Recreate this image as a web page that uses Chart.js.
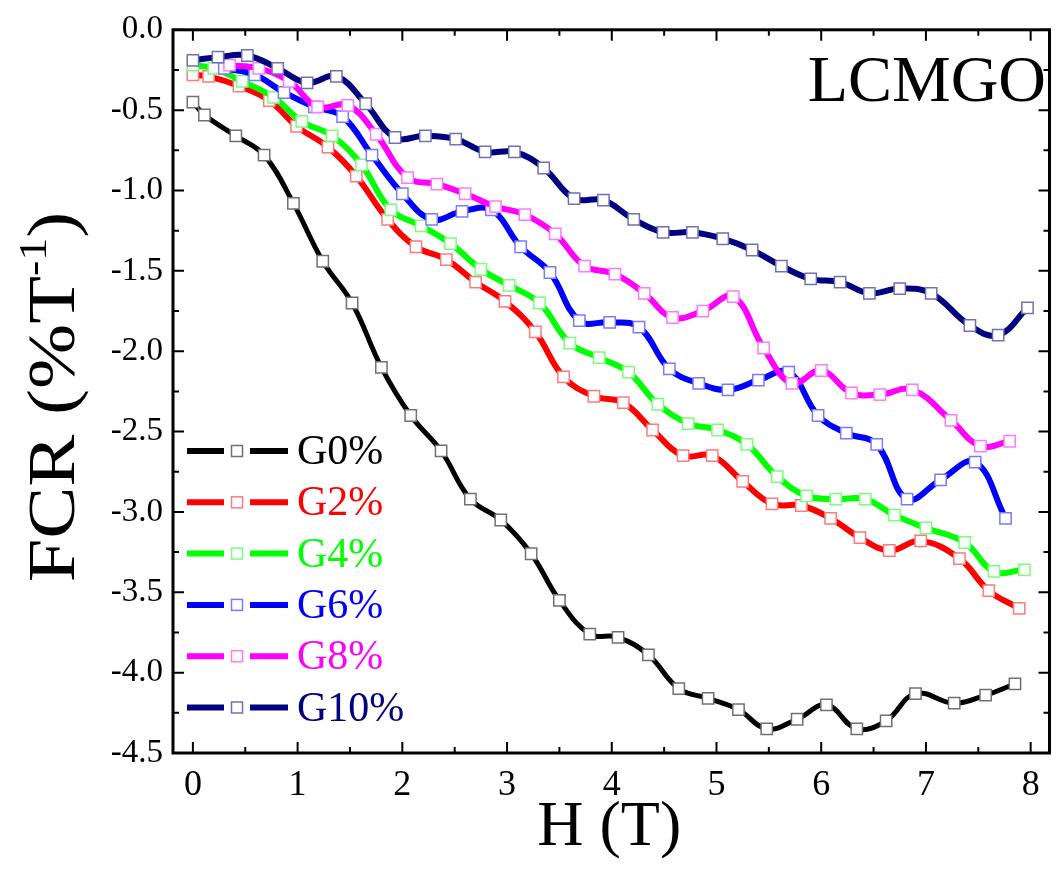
<!DOCTYPE html>
<html>
<head>
<meta charset="utf-8">
<title>FCR vs H - LCMGO</title>
<script src="https://cdn.jsdelivr.net/npm/chart.js@4.4.0/dist/chart.umd.min.js"></script>
<style>
  html, body { margin: 0; padding: 0; background: #fff; }
  #wrap { width: 1059px; height: 869px; }
</style>
</head>
<body>
<div id="wrap"><canvas id="fcrChart" width="1059" height="869"></canvas></div>
<script>
// --- DATA ---
const seriesNames = ['G0%', 'G2%', 'G4%', 'G6%', 'G8%', 'G10%'];

const g0Field = [0, 0.11, 0.41, 0.68, 0.96, 1.24, 1.52, 1.80, 2.08, 2.37, 2.65, 2.94, 3.23, 3.50, 3.79, 4.06, 4.35, 4.64, 4.92, 5.21, 5.48, 5.77, 6.05, 6.34, 6.62, 6.90, 7.27, 7.57, 7.85];
const g0Fcr   = [-0.45, -0.53, -0.66, -0.78, -1.08, -1.44, -1.70, -2.10, -2.40, -2.62, -2.92, -3.05, -3.26, -3.55, -3.76, -3.78, -3.89, -4.10, -4.16, -4.23, -4.35, -4.29, -4.20, -4.35, -4.30, -4.13, -4.19, -4.14, -4.07];

const g2Field = [0, 0.15, 0.44, 0.73, 0.99, 1.29, 1.56, 1.86, 2.13, 2.42, 2.70, 2.98, 3.27, 3.54, 3.83, 4.11, 4.39, 4.68, 4.96, 5.25, 5.53, 5.81, 6.09, 6.37, 6.65, 6.95, 7.32, 7.60, 7.89];
const g2Fcr   = [-0.28, -0.29, -0.35, -0.44, -0.60, -0.73, -0.91, -1.18, -1.35, -1.43, -1.57, -1.69, -1.88, -2.16, -2.28, -2.32, -2.49, -2.65, -2.65, -2.81, -2.95, -2.96, -3.04, -3.16, -3.24, -3.18, -3.29, -3.49, -3.60];

const g4Field = [0, 0.20, 0.47, 0.77, 1.04, 1.33, 1.61, 1.89, 2.18, 2.46, 2.75, 3.02, 3.31, 3.60, 3.88, 4.16, 4.44, 4.73, 5.01, 5.29, 5.58, 5.86, 6.14, 6.42, 6.70, 7.00, 7.37, 7.65, 7.94];
const g4Fcr   = [-0.22, -0.24, -0.32, -0.42, -0.57, -0.66, -0.84, -1.12, -1.22, -1.33, -1.49, -1.59, -1.70, -1.95, -2.04, -2.13, -2.33, -2.45, -2.49, -2.58, -2.78, -2.90, -2.92, -2.92, -3.02, -3.10, -3.19, -3.37, -3.36];

const g6Field = [0.30, 0.59, 0.87, 1.16, 1.43, 1.71, 2.00, 2.28, 2.57, 2.85, 3.13, 3.41, 3.69, 3.98, 4.26, 4.55, 4.83, 5.11, 5.40, 5.69, 5.97, 6.24, 6.53, 6.82, 7.14, 7.47, 7.76];
const g6Fcr   = [-0.24, -0.28, -0.39, -0.48, -0.54, -0.78, -1.02, -1.18, -1.13, -1.12, -1.35, -1.51, -1.81, -1.82, -1.85, -2.11, -2.20, -2.24, -2.18, -2.13, -2.40, -2.51, -2.58, -2.92, -2.80, -2.69, -3.04];

const g8Field = [0.35, 0.63, 0.92, 1.19, 1.48, 1.75, 2.05, 2.33, 2.60, 2.89, 3.17, 3.46, 3.74, 4.03, 4.31, 4.58, 4.87, 5.16, 5.45, 5.72, 6.00, 6.29, 6.56, 6.87, 7.24, 7.52, 7.80];
const g8Fcr   = [-0.22, -0.24, -0.32, -0.48, -0.47, -0.65, -0.92, -0.96, -1.02, -1.10, -1.15, -1.27, -1.47, -1.52, -1.64, -1.79, -1.75, -1.66, -1.98, -2.20, -2.12, -2.26, -2.27, -2.24, -2.43, -2.59, -2.56];

const g10Field = [0, 0.24, 0.52, 0.81, 1.09, 1.37, 1.65, 1.93, 2.22, 2.51, 2.79, 3.07, 3.35, 3.64, 3.92, 4.21, 4.49, 4.77, 5.06, 5.34, 5.62, 5.90, 6.18, 6.46, 6.75, 7.05, 7.42, 7.69, 7.97];
const g10Fcr   = [-0.19, -0.17, -0.16, -0.24, -0.33, -0.29, -0.46, -0.67, -0.66, -0.68, -0.76, -0.76, -0.86, -1.05, -1.06, -1.18, -1.26, -1.26, -1.30, -1.37, -1.47, -1.55, -1.57, -1.64, -1.61, -1.64, -1.84, -1.90, -1.73];

const xTickValues = [0, 1, 2, 3, 4, 5, 6, 7, 8];
const yTickValues = [0, -0.5, -1.0, -1.5, -2.0, -2.5, -3.0, -3.5, -4.0, -4.5];

// --- STYLE ---
const lineColors   = ['#000000', '#ff0000', '#00ff00', '#0000ff', '#ff00ff', '#000080'];
const markerColors = ['#707070', '#ff7a7a', '#7aff7a', '#7a7aff', '#ff7aff', '#7070b8'];
const serif = 'Liberation Serif';

Chart.defaults.font.family = serif;
Chart.defaults.color = '#000';

const fields = [g0Field, g2Field, g4Field, g6Field, g8Field, g10Field];
const rates  = [g0Fcr, g2Fcr, g4Fcr, g6Fcr, g8Fcr, g10Fcr];

const datasets = seriesNames.map((name, i) => ({
    label: name,
    data: fields[i].map((h, k) => ({ x: h, y: rates[i][k] })),
    borderColor: lineColors[i],
    borderWidth: i === 0 ? 5 : 6,
    tension: 0.4,
    pointStyle: 'rect',
    pointRadius: 8,
    pointBorderWidth: 1.5,
    pointBorderColor: markerColors[i],
    pointBackgroundColor: '#ffffff',
    order: seriesNames.length - i
}));

// frame, inward ticks, legend and titles
const decorations = {
    id: 'decorations',
    afterDraw(chart) {
        const { ctx, chartArea: a, scales: { x, y } } = chart;
        ctx.save();

        // ticks (major + minor) on all four sides, pointing inward
        ctx.strokeStyle = '#000';
        ctx.lineWidth = 2;
        const xFirst = xTickValues[0], xLast = xTickValues[xTickValues.length - 1];
        for (let v = xFirst; v <= xLast + 1e-9; v += 0.5) {
            const px = x.getPixelForValue(v);
            const len = Number.isInteger(v) ? 11 : 6;
            ctx.beginPath();
            ctx.moveTo(px, a.bottom); ctx.lineTo(px, a.bottom - len);
            ctx.moveTo(px, a.top); ctx.lineTo(px, a.top + len);
            ctx.stroke();
        }
        const yTop = yTickValues[0], yBot = yTickValues[yTickValues.length - 1];
        for (let v = yTop; v >= yBot - 1e-9; v -= 0.25) {
            const py = y.getPixelForValue(v);
            const len = Math.abs(v * 2 - Math.round(v * 2)) < 1e-6 ? 11 : 6;
            ctx.beginPath();
            ctx.moveTo(a.left, py); ctx.lineTo(a.left + len, py);
            ctx.moveTo(a.right, py); ctx.lineTo(a.right - len, py);
            ctx.stroke();
        }

        // frame
        ctx.lineWidth = 3;
        ctx.strokeRect(a.left, a.top, a.right - a.left, a.bottom - a.top);

        // legend
        ctx.textBaseline = 'middle';
        ctx.textAlign = 'left';
        ctx.font = '42px ' + serif;
        chart.data.datasets.forEach((ds, i) => {
            const cy = 451 + i * 51.3;
            ctx.strokeStyle = ds.borderColor;
            ctx.lineWidth = 6;
            ctx.beginPath();
            ctx.moveTo(187, cy); ctx.lineTo(224, cy);
            ctx.moveTo(250, cy); ctx.lineTo(288, cy);
            ctx.stroke();
            ctx.fillStyle = '#fff';
            ctx.fillRect(231.5, cy - 5.5, 11, 11);
            ctx.strokeStyle = ds.pointBorderColor;
            ctx.lineWidth = 1.5;
            ctx.strokeRect(231.5, cy - 5.5, 11, 11);
            ctx.fillStyle = ds.borderColor;
            ctx.fillText(ds.label, 297, cy + 2);
        });

        // sample label
        ctx.fillStyle = '#000';
        ctx.textAlign = 'right';
        ctx.textBaseline = 'alphabetic';
        ctx.font = '66px ' + serif;
        ctx.fillText('LCMGO', 1046, 101);

        // x title
        ctx.textAlign = 'center';
        ctx.font = '64px ' + serif;
        ctx.fillText('H (T)', (a.left + a.right) / 2 - 2, 845);

        // y title with superscript, slightly stretched along its length like the original
        ctx.save();
        ctx.translate(74, 397);
        ctx.rotate(-Math.PI / 2);
        ctx.scale(1.15, 1);
        const big = '68px ' + serif, small = '40px ' + serif;
        ctx.font = big;
        const w1 = ctx.measureText('FCR (%T').width;
        const w3 = ctx.measureText(')').width;
        ctx.font = small;
        const w2 = ctx.measureText('-1').width;
        let sx = -(w1 + w2 + w3) / 2;
        ctx.textAlign = 'left';
        ctx.font = big;
        ctx.fillText('FCR (%T', sx, 0);
        ctx.font = small;
        ctx.fillText('-1', sx + w1, -28);
        ctx.font = big;
        ctx.fillText(')', sx + w1 + w2, 0);
        ctx.restore();

        ctx.restore();
    }
};

new Chart(document.getElementById('fcrChart'), {
    type: 'line',
    data: { datasets },
    options: {
        responsive: false,
        animation: false,
        devicePixelRatio: 1,
        layout: { padding: { top: 20, right: 2, left: 0, bottom: 0 } },
        plugins: {
            legend: { display: false },
            tooltip: { enabled: false }
        },
        scales: {
            x: {
                type: 'linear',
                min: -0.19,
                max: 8.18,
                grid: { display: false, drawTicks: false },
                border: { display: false },
                afterBuildTicks: s => { s.ticks = xTickValues.map(v => ({ value: v })); },
                afterFit: s => { s.height = 116; },
                ticks: {
                    padding: 11,
                    color: '#000',
                    font: { family: serif, size: 36 },
                    callback: v => String(v)
                }
            },
            y: {
                type: 'linear',
                min: -4.5,
                max: 0,
                grid: { display: false, drawTicks: false },
                border: { display: false },
                afterBuildTicks: s => { s.ticks = yTickValues.map(v => ({ value: v })); },
                afterFit: s => { s.width = 173; },
                ticks: {
                    padding: 10,
                    color: '#000',
                    font: { family: serif, size: 33 },
                    callback: v => v.toFixed(1)
                }
            }
        }
    },
    plugins: [decorations]
});
</script>
</body>
</html>
